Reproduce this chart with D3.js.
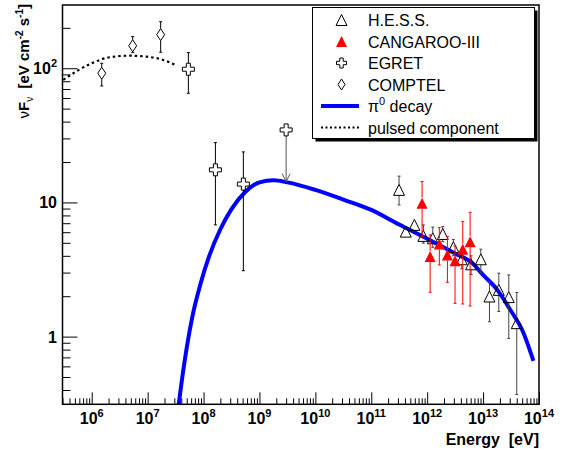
<!DOCTYPE html>
<html><head><meta charset="utf-8">
<script src="https://cdn.jsdelivr.net/npm/d3@7"></script>
<style>body{margin:0;background:#fff}svg{font-family:"Liberation Sans",Arial,sans-serif}</style>
</head><body>
<svg id="c" width="567" height="449"></svg>
<script>
// ---------------- data ----------------
const comptelE = [1.51e6, 5.4e6, 1.71e7];
const comptelF = [91.8, 147, 178];
const comptelLo = [73.8, 130.7, 131.6];
const comptelHi = [108.9, 172, 222];

const egretE = [5.35e7, 1.63e8, 5.15e8];
const egretF = [98.3, 17.5, 13.7];
const egretLo = [65.1, 6.8, 3.1];
const egretHi = [130.7, 27.9, 23.8];
const egretUL_E = [3.0e9];
const egretUL_F = [34.7];
const egretUL_to = [14.3];

const hessE  = [3.14e11, 4.14e11, 5.9e11, 8.55e11, 1.26e12, 1.9e12, 2.94e12, 4.16e12, 6.1e12, 9.1e12, 1.3e13, 1.91e13, 2.88e13, 4.0e13];
const hessF  = [12.4, 6.06, 6.8, 5.63, 5.41, 5.82, 4.64, 3.77, 3.46, 3.77, 1.99, 2.23, 1.97, 1.26];
const hessLo = [9.58, 5.6, 6.3, 4.97, 4.63, 5.1, 4.0, 3.2, 2.9, 2.97, 1.29, 1.54, 0.97, 0.37];
const hessHi = [15.7, 6.5, 7.3, 6.8, 6.55, 6.6, 5.3, 4.4, 4.0, 4.48, 2.57, 2.97, 2.88, 2.13];

const cangE  = [8.1e11, 1.13e12, 1.65e12, 2.3e12, 3.15e12, 4.33e12, 5.86e12];
const cangF  = [9.86, 3.95, 4.91, 4.06, 3.68, 4.48, 5.1];
const cangLo = [5.56, 2.14, 3.42, 2.54, 1.77, 1.75, 1.69];
const cangHi = [14.3, 5.72, 6.49, 5.56, 4.74, 7.19, 8.45];

const pionE = [3.55e7, 4.17e7, 5.01e7, 6.31e7, 8.91e7, 1.26e8, 2.0e8, 3.16e8, 5.62e8, 1.0e9, 1.78e9, 3.16e9, 1.0e10, 3.16e10, 1.0e11, 3.16e11, 1.0e12, 3.16e12, 6.31e12, 1.0e13, 1.78e13, 3.16e13, 5.01e13, 7.94e13];
const pionF = [0.302, 0.50, 0.83, 1.41, 2.51, 3.98, 6.31, 8.91, 12.0, 14.1, 14.6, 14.1, 12.4, 10.5, 8.8, 6.84, 5.37, 4.17, 3.55, 2.88, 2.24, 1.55, 1.12, 0.66];

const pulsedE = [3.1e5, 1.0e6, 2.1e6, 4.8e6, 9.6e6, 1.9e7, 3.1e7];
const pulsedF = [82, 109, 120.8, 124, 122, 115.3, 105.8];

const xTickExp = [6, 7, 8, 9, 10, 11, 12, 13, 14];
const yTickLabels = [{v: 1, base: "1", sup: ""}, {v: 10, base: "10", sup: ""}, {v: 100, base: "10", sup: "2"}];

const legendItems = [
  {label: "H.E.S.S.", kind: "tri"},
  {label: "CANGAROO-III", kind: "tri-red"},
  {label: "EGRET", kind: "cross"},
  {label: "COMPTEL", kind: "diamond"},
  {label: "pi0", kind: "line"},
  {label: "pulsed component", kind: "dot"}
];

// ---------------- layout ----------------
const L = 62.5, R = 539, T = 5, B = 404.3;
const svg = d3.select("#c");
const x = d3.scaleLog().domain([3e5, 1e14]).range([L, R]);
const y = d3.scaleLog().domain([0.313, 296]).range([B, T]);

svg.append("defs").append("clipPath").attr("id", "clip")
  .append("rect").attr("x", L).attr("y", T).attr("width", R - L).attr("height", B - T);

// minor & major ticks via d3 axes
const xMinor = [], yMinor = [];
for (let d = 5; d <= 13; d++) for (let k = 2; k <= 9; k++) { const v = k * Math.pow(10, d); if (v >= 3e5 && v <= 1e14) xMinor.push(v); }
for (let d = -1; d <= 2; d++) for (let k = 2; k <= 9; k++) { const v = k * Math.pow(10, d); if (v >= 0.313 && v <= 296) yMinor.push(v); }
const xMajor = xTickExp.map(e => Math.pow(10, e));
const yMajor = [1, 10, 100];

function styleAxis(g) { g.select(".domain").remove(); g.selectAll("line").attr("stroke", "#000").attr("stroke-width", 1); g.selectAll("text").remove(); }
svg.append("g").attr("transform", `translate(0,${B})`).call(d3.axisBottom(x).tickValues(xMinor).tickSize(-6).tickFormat("")).call(styleAxis);
svg.append("g").attr("transform", `translate(0,${B})`).call(d3.axisBottom(x).tickValues(xMajor).tickSize(-12).tickFormat("")).call(styleAxis);
svg.append("g").attr("transform", `translate(${L},0)`).call(d3.axisLeft(y).tickValues(yMinor).tickSize(-8).tickFormat("")).call(styleAxis);
svg.append("g").attr("transform", `translate(${L},0)`).call(d3.axisLeft(y).tickValues(yMajor).tickSize(-15).tickFormat("")).call(styleAxis);

// tick labels
xTickExp.forEach(e => {
  const t = svg.append("text").attr("x", x(Math.pow(10, e))).attr("y", 424).attr("text-anchor", "middle")
    .attr("font-size", 16).attr("font-weight", "bold");
  t.append("tspan").text("10");
  t.append("tspan").attr("dy", -7).attr("font-size", 11).text(e);
});
yTickLabels.forEach(d => {
  const t = svg.append("text").attr("x", 57).attr("y", y(d.v) + 6).attr("text-anchor", "end")
    .attr("font-size", 16).attr("font-weight", "bold");
  t.append("tspan").text(d.base);
  if (d.sup) t.append("tspan").attr("dy", -7).attr("font-size", 11).text(d.sup);
});

// axis titles
svg.append("text").attr("x", R).attr("y", 445).attr("text-anchor", "end").attr("font-size", 16).attr("font-weight", "bold")
  .attr("xml:space", "preserve").text("Energy  [eV]");
(function () {
  const t = svg.append("text").attr("transform", "translate(29,4) rotate(-90)").attr("text-anchor", "end")
    .attr("font-size", 15).attr("font-weight", "bold").attr("xml:space", "preserve");
  t.append("tspan").attr("font-weight", "normal").text("ν");
  t.append("tspan").text("F");
  t.append("tspan").attr("dy", 4).attr("font-size", 10).attr("font-weight", "normal").text("ν");
  t.append("tspan").attr("dy", -4).text("  [eV cm");
  t.append("tspan").attr("dy", -6).attr("font-size", 10).text("-2");
  t.append("tspan").attr("dy", 6).text(" s");
  t.append("tspan").attr("dy", -6).attr("font-size", 10).text("-1");
  t.append("tspan").attr("dy", 6).text("]");
})();

const plot = svg.append("g").attr("clip-path", "url(#clip)");

// curves
const line = d3.line().x(d => x(d[0])).y(d => y(d[1])).curve(d3.curveMonotoneX);
plot.append("path").datum(pulsedE.map((e, i) => [e, pulsedF[i]])).attr("d", line)
  .attr("fill", "none").attr("stroke", "#000").attr("stroke-width", 2.2).attr("stroke-dasharray", "2.5,3");
plot.append("path").datum(pionE.map((e, i) => [e, pionF[i]])).attr("d", line)
  .attr("fill", "none").attr("stroke", "#0000ff").attr("stroke-width", 4);

// marker shapes
function triPath(r) { return `M${-r},${r}L${r},${r}L0,${-r}Z`; }
function crossPath(r, a) { return `M${-a},${-r}L${a},${-r}L${a},${-a}L${r},${-a}L${r},${a}L${a},${a}L${a},${r}L${-a},${r}L${-a},${a}L${-r},${a}L${-r},${-a}L${-a},${-a}Z`; }
function diamondPath(w, h) { return `M0,${-h}L${w},0L0,${h}L${-w},0Z`; }

function errBars(E, F, Lo, Hi, half, color) {
  E.forEach((e, i) => {
    const cx = x(e), cy = y(F[i]);
    const yh = y(Hi[i]), yl = y(Lo[i]);
    if (yh < cy - half) {
      plot.append("line").attr("x1", cx).attr("x2", cx).attr("y1", cy - half).attr("y2", yh).attr("stroke", color).attr("stroke-width", 1);
      plot.append("line").attr("x1", cx - 1.5).attr("x2", cx + 1.5).attr("y1", yh).attr("y2", yh).attr("stroke", color).attr("stroke-width", 1);
    }
    if (yl > cy + half) {
      plot.append("line").attr("x1", cx).attr("x2", cx).attr("y1", cy + half).attr("y2", yl).attr("stroke", color).attr("stroke-width", 1);
      plot.append("line").attr("x1", cx - 1.5).attr("x2", cx + 1.5).attr("y1", yl).attr("y2", yl).attr("stroke", color).attr("stroke-width", 1);
    }
  });
}

// H.E.S.S.
errBars(hessE, hessF, hessLo, hessHi, 5.5, "#444");
hessE.forEach((e, i) => plot.append("path").attr("d", triPath(5.5)).attr("transform", `translate(${x(e)},${y(hessF[i])})`)
  .attr("fill", "none").attr("stroke", "#000").attr("stroke-width", 1));
// CANGAROO-III
errBars(cangE, cangF, cangLo, cangHi, 5.5, "#ff0000");
cangE.forEach((e, i) => plot.append("path").attr("d", triPath(5.5)).attr("transform", `translate(${x(e)},${y(cangF[i])})`)
  .attr("fill", "#ff0000"));
// EGRET
errBars(egretE, egretF, egretLo, egretHi, 6, "#000");
egretE.forEach((e, i) => plot.append("path").attr("d", crossPath(6, 2)).attr("transform", `translate(${x(e)},${y(egretF[i])})`)
  .attr("fill", "none").attr("stroke", "#000").attr("stroke-width", 1));
egretUL_E.forEach((e, i) => {
  const cx = x(e), cy = y(egretUL_F[i]), ye = y(egretUL_to[i]);
  plot.append("line").attr("x1", cx).attr("x2", cx).attr("y1", cy + 6).attr("y2", ye).attr("stroke", "#555").attr("stroke-width", 1);
  plot.append("path").attr("d", `M${cx - 4},${ye - 8}L${cx},${ye}L${cx + 4},${ye - 8}`).attr("fill", "none").attr("stroke", "#555").attr("stroke-width", 1);
  plot.append("path").attr("d", crossPath(6, 2)).attr("transform", `translate(${cx},${cy})`).attr("fill", "none").attr("stroke", "#000");
});
// COMPTEL
errBars(comptelE, comptelF, comptelLo, comptelHi, 6, "#000");
comptelE.forEach((e, i) => plot.append("path").attr("d", diamondPath(4, 6)).attr("transform", `translate(${x(e)},${y(comptelF[i])})`)
  .attr("fill", "none").attr("stroke", "#000").attr("stroke-width", 1));

// frame
svg.append("rect").attr("x", L).attr("y", T).attr("width", R - L).attr("height", B - T)
  .attr("fill", "none").attr("stroke", "#000").attr("stroke-width", 1.5);

// legend
const lg = svg.append("g");
const lx = 312.5, ly = 7.5, lw = 222, lh = 131;
lg.append("rect").attr("x", lx + 3).attr("y", ly + 3).attr("width", lw).attr("height", lh).attr("fill", "#000");
lg.append("rect").attr("x", lx).attr("y", ly).attr("width", lw).attr("height", lh).attr("fill", "#fff").attr("stroke", "#000").attr("stroke-width", 1);
legendItems.forEach((d, i) => {
  const cy = 20 + i * 21.5, mx = 341.5;
  if (d.kind === "tri") lg.append("path").attr("d", triPath(5.5)).attr("transform", `translate(${mx},${cy})`).attr("fill", "none").attr("stroke", "#000");
  else if (d.kind === "tri-red") lg.append("path").attr("d", triPath(5.5)).attr("transform", `translate(${mx},${cy})`).attr("fill", "#ff0000");
  else if (d.kind === "cross") lg.append("path").attr("d", crossPath(5, 1.7)).attr("transform", `translate(${mx},${cy})`).attr("fill", "none").attr("stroke", "#000");
  else if (d.kind === "diamond") lg.append("path").attr("d", diamondPath(3.5, 5.5)).attr("transform", `translate(${mx},${cy})`).attr("fill", "none").attr("stroke", "#000");
  else if (d.kind === "line") lg.append("line").attr("x1", 321).attr("x2", 359).attr("y1", cy).attr("y2", cy).attr("stroke", "#0000ff").attr("stroke-width", 4);
  else if (d.kind === "dot") lg.append("line").attr("x1", 321).attr("x2", 359).attr("y1", cy).attr("y2", cy).attr("stroke", "#000").attr("stroke-width", 2).attr("stroke-dasharray", "2,2.5");
  const t = lg.append("text").attr("x", 368).attr("y", cy + 6).attr("font-size", 16);
  if (d.kind === "line") {
    t.append("tspan").text("π");
    t.append("tspan").attr("dy", -7).attr("font-size", 11).text("0");
    t.append("tspan").attr("dy", 7).text(" decay");
  } else t.text(d.label);
});
</script>
</body></html>
